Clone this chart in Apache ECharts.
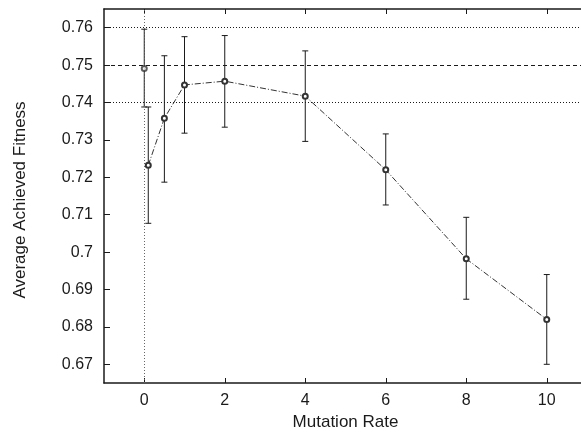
<!DOCTYPE html>
<html>
<head>
<meta charset="utf-8">
<script src="https://cdn.jsdelivr.net/npm/echarts@6/dist/echarts.min.js"></script>
<style>
  html, body { margin: 0; padding: 0; background: #fff; }
  #chart { width: 581px; height: 432px; }
</style>
</head>
<body>
<div id="chart"></div>
<script>
// Mutation-rate sweep: mean fitness with error bar bounds
const rates = [0.1, 0.5, 1, 2, 4, 6, 8, 10];
const meanFitness = [0.7232, 0.7358, 0.7447, 0.7457, 0.7417, 0.7220, 0.6982, 0.6820];
const lowFitness  = [0.7077, 0.7187, 0.7318, 0.7334, 0.7296, 0.7126, 0.6874, 0.6700];
const highFitness = [0.7388, 0.7525, 0.7576, 0.7579, 0.7538, 0.7316, 0.7093, 0.6940];

// Reference run without mutation
const baselineRate = 0;
const baselineMean = 0.7491;
const baselineLow = 0.7388;
const baselineHigh = 0.7596;

// Tick labels
const xTicks = [0, 2, 4, 6, 8, 10];
const yTicks = [0.67, 0.68, 0.69, 0.70, 0.71, 0.72, 0.73, 0.74, 0.75, 0.76];

const FONT = '"Liberation Sans", Arial, Helvetica, sans-serif';
const INK = '#1a1a1a';

const linePoints = rates.map((r, i) => [r, meanFitness[i]]);
const barRows = [[baselineRate, baselineLow, baselineHigh]]
  .concat(rates.map((r, i) => [r, lowFitness[i], highFitness[i]]));

function errorBar(params, api) {
  const x = api.value(0);
  const top = api.coord([x, api.value(2)]);
  const bot = api.coord([x, api.value(1)]);
  const hw = 3;
  const style = { stroke: INK, lineWidth: 1 };
  return {
    type: 'group',
    children: [
      { type: 'line', shape: { x1: top[0], y1: top[1], x2: bot[0], y2: bot[1] }, style },
      { type: 'line', shape: { x1: top[0] - hw, y1: top[1], x2: top[0] + hw, y2: top[1] }, style },
      { type: 'line', shape: { x1: bot[0] - hw, y1: bot[1], x2: bot[0] + hw, y2: bot[1] }, style }
    ]
  };
}

const chart = echarts.init(document.getElementById('chart'), null, { renderer: 'canvas' });
chart.setOption({
  animation: false,
  backgroundColor: '#fff',
  grid: { left: 104, top: 9, width: 483, height: 374, outerBoundsMode: 'none', containLabel: false },
  xAxis: [{
    type: 'value', min: -1, max: 11, position: 'bottom',
    name: 'Mutation Rate', nameLocation: 'middle', nameGap: 25,
    nameTextStyle: { fontFamily: FONT, fontSize: 17, color: INK },
    axisLine: { show: true, onZero: false, lineStyle: { color: INK, width: 1.5 } },
    axisTick: { show: true, inside: true, length: 5, customValues: xTicks, lineStyle: { color: INK, width: 1 } },
    axisLabel: { customValues: xTicks, margin: 10, fontFamily: FONT, fontSize: 16, color: INK },
    splitLine: { show: false }
  }, {
    type: 'value', min: -1, max: 11, position: 'top',
    axisLine: { show: true, onZero: false, lineStyle: { color: INK, width: 1.5 } },
    axisTick: { show: true, inside: true, length: 5, customValues: xTicks, lineStyle: { color: INK, width: 1 } },
    axisLabel: { show: false },
    splitLine: { show: false }
  }],
  yAxis: {
    type: 'value', min: 0.665, max: 0.765,
    name: 'Average Achieved Fitness', nameLocation: 'middle', nameGap: 75,
    nameTextStyle: { fontFamily: FONT, fontSize: 17, color: INK, padding: [0, 8, 0, 0] },
    axisLine: { show: true, onZero: false, lineStyle: { color: INK, width: 1.5 } },
    axisTick: { show: true, inside: true, length: 6, customValues: yTicks, lineStyle: { color: INK, width: 1 } },
    axisLabel: {
      customValues: yTicks, margin: 11, fontFamily: FONT, fontSize: 16, color: INK,
      formatter: v => String(parseFloat(Number(v).toFixed(2)))
    },
    splitLine: { show: false }
  },
  series: [
    {
      // reference lines from the no-mutation run
      type: 'scatter',
      data: [[baselineRate, baselineMean]],
      symbol: 'emptyCircle', symbolSize: 5,
      itemStyle: { color: '#333', borderWidth: 0.8 },
      z: 5,
      markLine: {
        silent: true, symbol: 'none', animation: false,
        label: { show: false },
        data: [
          { yAxis: baselineHigh, lineStyle: { type: [1, 2], color: INK, width: 1 } },
          { yAxis: baselineMean, lineStyle: { type: [4, 3], color: INK, width: 1 } },
          { yAxis: baselineLow, lineStyle: { type: [1, 2], color: INK, width: 1 } },
          { xAxis: baselineRate, lineStyle: { type: [1, 2], color: '#666', width: 1 } }
        ]
      }
    },
    {
      type: 'custom',
      renderItem: errorBar,
      data: barRows,
      encode: { x: 0, y: [1, 2] },
      z: 3
    },
    {
      type: 'line',
      data: linePoints,
      symbol: 'emptyCircle', symbolSize: 5,
      lineStyle: { color: '#333', width: 1, type: [6, 2, 1, 2] },
      itemStyle: { color: '#333', borderWidth: 0.8 },
      z: 4
    }
  ]
});
</script>
</body>
</html>
